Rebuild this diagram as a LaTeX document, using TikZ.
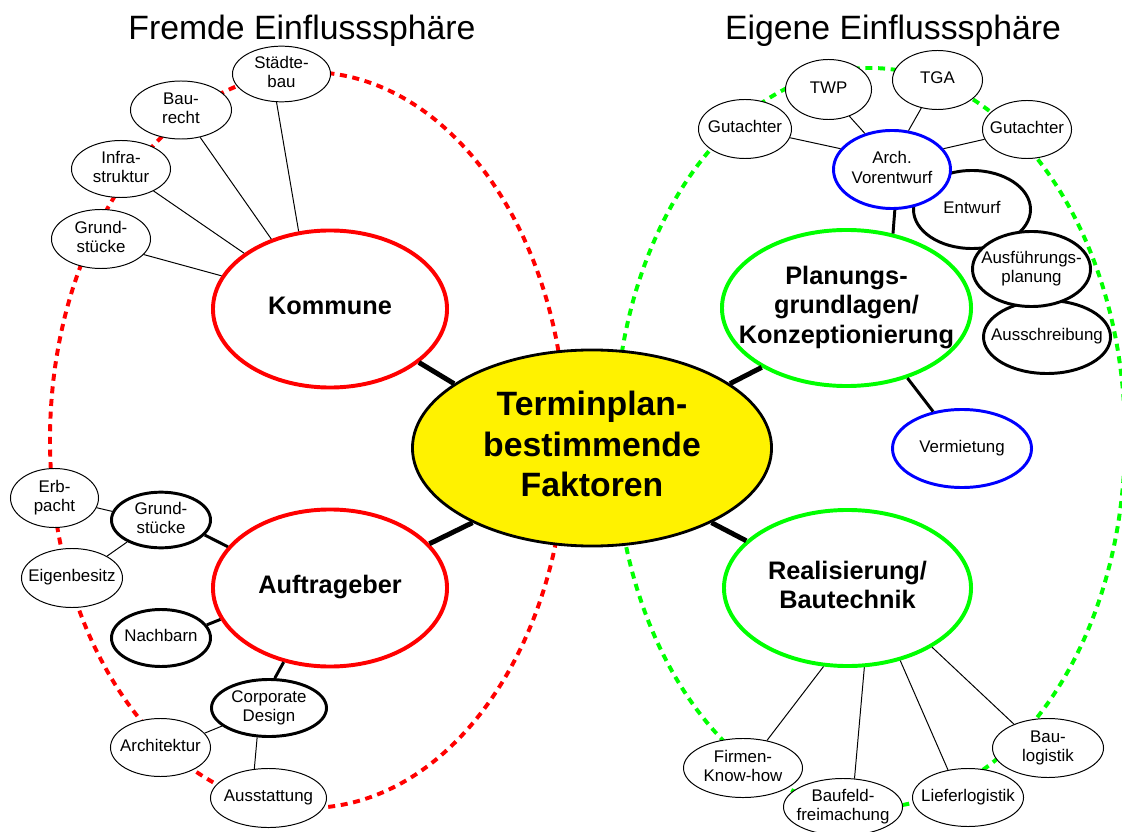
\documentclass[tikz,border=0pt]{standalone}
\usepackage{fontspec}
\setmainfont{Liberation Sans}
\usetikzlibrary{shapes.geometric}
\newcommand{\lbl}[1]{\makebox[0pt]{\begin{tabular}{@{}c@{}}#1\end{tabular}}}

\begin{document}
\begin{tikzpicture}[x=0.025cm, y=-0.025cm]
		\tikzset{leaf/.style = {shape=ellipse, draw, fill=white, line width=0.7pt, inner sep=0pt, font=\fontsize{12}{14}\selectfont},
			leafthick/.style = {leaf, line width=2.1pt},
			leafblue/.style = {leaf, draw=blue, line width=2.1pt},
			hubred/.style = {shape=ellipse, draw=red, fill=white, line width=2.8pt, inner sep=0pt, font=\fontsize{18}{21.3}\selectfont\bfseries},
			hubgreen/.style = {hubred, draw=green},
			core/.style = {shape=ellipse, draw=black, fill=yellow, line width=2pt, inner sep=0pt, font=\fontsize{24}{28.5}\selectfont\bfseries},
			ell/.style 2 args = {minimum width=#1cm, minimum height=#2cm},
			heading/.style = {font=\fontsize{24}{28}\selectfont}}
		\tikzset{twig/.style = {draw=black, line width=0.7pt}, branch/.style = {draw=black, line width=2.1pt}, trunk/.style = {draw=black, line width=3.5pt}, sphere/.style = {line width=2.8pt, dash pattern=on 5pt off 4pt}}
		\useasboundingbox (0,0) rectangle (1122,832);
		%spheres
		\node[heading, anchor=base] (fremdsph) at (302,40) {Fremde Einflusssphäre};
		\node[heading, anchor=base] (eigensph) at (893,40) {Eigene Einflusssphäre};
		\draw[sphere, draw=red] (308,440) ellipse [x radius=258, y radius=368];
		\draw[sphere, draw=green] (870,438) ellipse [x radius=255, y radius=370];
		%main nodes
		\node[core, ell={8.975}{4.9}] (core) at (592,448) {\lbl{Terminplan-\\bestimmende\\Faktoren}};
		\node[hubred, ell={5.85}{3.925}] (kom) at (330,309) {\lbl{Kommune}};
		\node[hubred, ell={5.85}{3.925}] (auf) at (330,588) {\lbl{Auftrageber}};
		\node[hubgreen, ell={6.225}{3.9}] (plan) at (846.5,308) {\lbl{Planungs-\\grundlagen/\\Konzeptionierung}};
		\node[hubgreen, ell={6.175}{3.9}] (real) at (847.5,588) {\lbl{Realisierung/\\Bautechnik}};
		\node[leafblue, ell={3.475}{1.95}] (verm) at (962,448.5) {\lbl{Vermietung}};
		%Kommune
		\node[leaf, ell={2.45}{1.25}] (stadt) at (281.5,74) {\lbl{Städte-\\bau}};
		\node[leaf, ell={2.525}{1.45}] (recht) at (181,110) {\lbl{Bau-\\recht}};
		\node[leaf, ell={2.475}{1.425}] (infra) at (121,169) {\lbl{Infra-\\struktur}};
		\node[leaf, ell={2.475}{1.475}] (grundk) at (101,239) {\lbl{Grund-\\stücke}};
		%Auftrageber
		\node[leaf, ell={2.2}{1.475}] (erb) at (54.5,498) {\lbl{Erb-\\pacht}};
		\node[leafthick, ell={2.475}{1.375}] (grunda) at (161,520) {\lbl{Grund-\\stücke}};
		\node[leaf, ell={2.525}{1.475}] (besitz) at (72,578) {\lbl{Eigenbesitz}};
		\node[leafthick, ell={2.475}{1.425}] (nach) at (161,638) {\lbl{Nachbarn}};
		\node[leafthick, ell={2.875}{1.425}] (corp) at (269,708) {\lbl{Corporate\\Design}};
		\node[leaf, ell={2.5}{1.45}] (archi) at (160.5,747.5) {\lbl{Architektur}};
		\node[leaf, ell={2.9}{1.475}] (ausst) at (268.5,798) {\lbl{Ausstattung}};
		%Planung
		\node[leafthick, ell={2.925}{1.95}] (entw) at (972,209.5) {\lbl{Entwurf}};
		\node[leafthick, ell={3.175}{1.825}] (aussch) at (1047,337) {\lbl{Ausschreibung}};
		\node[leafthick, ell={2.95}{1.875}] (ausf) at (1031.5,269) {\lbl{Ausführungs-\\planung}};
		\node[leafblue, ell={2.925}{1.95}] (arch) at (892,169.5) {\lbl{Arch.\\Vorentwurf}};
		\node[leaf, ell={2.325}{1.475}] (gutl) at (745,129) {\lbl{Gutachter}};
		\node[leaf, ell={2.15}{1.5}] (twp) at (828.5,89.5) {\lbl{TWP}};
		\node[leaf, ell={2.25}{1.475}] (tga) at (937.5,80) {\lbl{TGA}};
		\node[leaf, ell={2.225}{1.45}] (gutr) at (1027,129.5) {\lbl{Gutachter}};
		%Realisierung
		\node[leaf, ell={2.975}{1.475}] (firm) at (743,768) {\lbl{Firmen-\\Know-how}};
		\node[leaf, ell={2.975}{1.425}] (feld) at (843,807) {\lbl{Baufeld-\\freimachung}};
		\node[leaf, ell={2.775}{1.45}] (lief) at (968,797.5) {\lbl{Lieferlogistik}};
		\node[leaf, ell={2.775}{1.475}] (baulog) at (1048,748) {\lbl{Bau-\\logistik}};
		%edges
		\draw[trunk] (core.155) edge (kom.-31);
		\draw[trunk] (core.212) edge (auf.24);
		\draw[trunk] (core.25) edge (plan.215);
		\draw[trunk] (core.-32) edge (real.155);
		\draw[branch] (arch.-86) edge (plan.58);
		\draw[branch] (plan.-49) edge (verm.128);
		\draw[branch] (grunda.-19) edge (auf.158);
		\draw[branch] (nach.16) edge (auf.196);
		\draw[branch] (corp.79) edge (auf.238);
		\draw[twig] (stadt.-100) edge (kom.112);
		\draw[twig] (recht.-55) edge (kom.130);
		\draw[twig] (infra.-34) edge (kom.147);
		\draw[twig] (grundk.-20) edge (kom.163);
		\draw[twig] (erb.-13) edge (grunda.170);
		\draw[twig] (grunda.213) edge (besitz.32);
		\draw[twig] (corp.201) edge (archi.18);
		\draw[twig] (corp.248) edge (ausst.116);
		\draw[twig] (gutl.-11) edge (arch.158);
		\draw[twig] (twp.-52) edge (arch.127);
		\draw[twig] (tga.240) edge (arch.67);
		\draw[twig] (gutr.193) edge (arch.22);
		\draw[twig] (firm.49) edge (real.-107);
		\draw[twig] (feld.68) edge (real.-78);
		\draw[twig] (lief.126) edge (real.-54);
		\draw[twig] (baulog.145) edge (real.-35);
\end{tikzpicture}
\end{document}
